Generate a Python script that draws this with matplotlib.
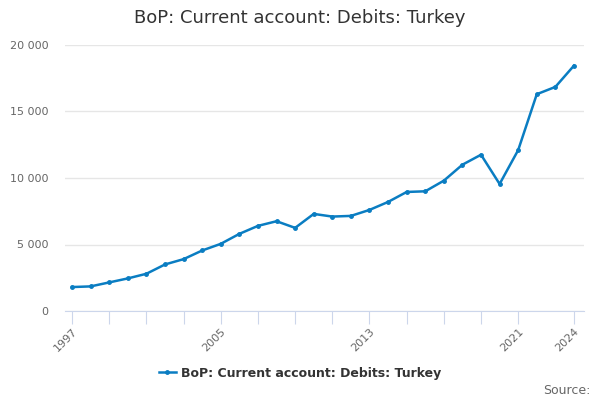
import matplotlib.pyplot as plt
from matplotlib.ticker import FuncFormatter

years = list(range(1997, 2025))
values = [1800, 1850, 2150, 2450, 2800, 3500, 3900, 4550, 5050, 5800,
          6400, 6750, 6250, 7300, 7100, 7150, 7600, 8200, 8950, 9000,
          9800, 11000, 11750, 9550, 12100, 16300, 16850, 18450]
label = "BoP: Current account: Debits: Turkey"
tick_years = list(range(1997, 2022, 2)) + [2024]
label_years = [1997, 2005, 2013, 2021, 2024]

fig = plt.figure(figsize=(6, 4), dpi=100)
ax = fig.add_axes([65 / 600, 1 - 311 / 400, 519 / 600, 266 / 400])

ax.plot(years, values, color="#0a7dc2", lw=1.8, marker="o", ms=2.5, label=label)

ax.set_ylim(0, 20000)
ax.set_xlim(1996.62, 2024.54)
ax.set_yticks([0, 5000, 10000, 15000, 20000])
ax.yaxis.set_major_formatter(FuncFormatter(lambda v, p: f"{int(v):,}".replace(",", " ")))
ax.set_xticks(tick_years)
ax.set_xticklabels([str(y) if y in label_years else "" for y in tick_years],
                   rotation=45, ha="right", rotation_mode="anchor")

ax.grid(axis="y", color="#e6e6e6", lw=1)
ax.set_axisbelow(True)
for s in ["top", "right", "left"]:
    ax.spines[s].set_visible(False)
ax.spines["bottom"].set_color("#ccd6eb")
ax.tick_params(axis="y", length=0, labelsize=8, labelcolor="#666666", pad=12)
ax.tick_params(axis="x", length=9, color="#ccd6eb", labelsize=8, labelcolor="#666666", pad=2)

fig.text(0.5, 0.955, label, ha="center", va="center", fontsize=13, color="#333333")
fig.legend(loc="center", bbox_to_anchor=(0.5, 1 - 373 / 400), frameon=False,
           prop={"size": 9, "weight": "bold"}, labelcolor="#333333",
           handlelength=1.4, handletextpad=0.4)
fig.text(590 / 600, 1 - 391 / 400, "Source:", ha="right", va="center", fontsize=9, color="#666666")

fig.savefig("out.png", dpi=100)
